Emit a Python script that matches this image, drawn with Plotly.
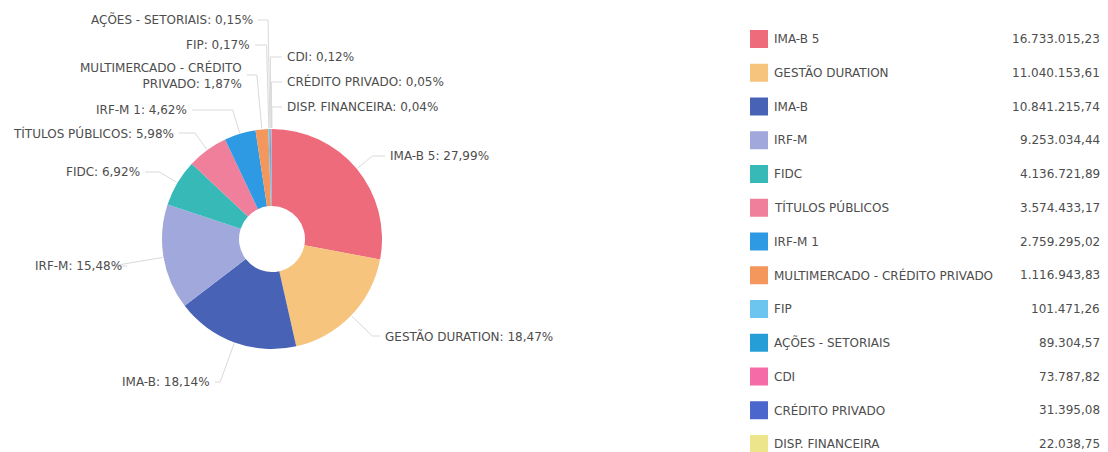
import math
import plotly.graph_objects as go

# ---------------- data ----------------
categories = [
    "IMA-B 5", "GESTÃO DURATION", "IMA-B", "IRF-M", "FIDC", "TÍTULOS PÚBLICOS",
    "IRF-M 1", "MULTIMERCADO - CRÉDITO PRIVADO", "FIP", "AÇÕES - SETORIAIS",
    "CDI", "CRÉDITO PRIVADO", "DISP. FINANCEIRA",
]
values = [
    16733015.23, 11040153.61, 10841215.74, 9253034.44, 4136721.89, 3574433.17,
    2759295.02, 1116943.83, 101471.26, 89304.57, 73787.82, 31395.08, 22038.75,
]
colors = [
    "#ee6b7b", "#f6c47c", "#4863b5", "#a1a8dc", "#36b9b7", "#f07f9b",
    "#2e9ae4", "#f4975c", "#6cc5ef", "#259ed8", "#f56ba7", "#4b66cc", "#ede58b",
]
# label text for pie callouts (line break for the long one)
callout_names = [
    "IMA-B 5", "GESTÃO DURATION", "IMA-B", "IRF-M", "FIDC", "TÍTULOS PÚBLICOS",
    "IRF-M 1", "MULTIMERCADO - CRÉDITO<br>PRIVADO", "FIP", "AÇÕES - SETORIAIS",
    "CDI", "CRÉDITO PRIVADO", "DISP. FINANCEIRA",
]

# ---------------- layout constants (window pixels) ----------------
WIN_W, WIN_H = 1108, 452
OFF = 8                              # page body margin
W, H = WIN_W - OFF, WIN_H - OFF      # figure size
CX, CY, R = 272, 239, 110            # pie centre / radius in window pixels
HOLE = 0.3
# callout text anchor (pixel x of text edge, pixel y of text centre, side)
label_x = [388, 383, 212, 124, 142, 176, 189, 244, 252, 255, 285, 285, 285]
label_y = [156, 336, 382, 266, 172, 133, 110, 75, 45, 20, 57, 82, 107]
label_side = ["L", "L", "R", "R", "R", "R", "R", "R", "R", "R", "L", "L", "L"]
# legend table
legend_sq_x = 759
legend_name_x = 772
legend_val_x = 1102
legend_row0 = 39
legend_step = 33.75

TEXT = "#4d4d4d"
FONT = "DejaVu Sans"

def px(x):
    return (x - OFF) / W

def py(y):
    return 1 - (y - OFF) / H

def br(v, d=2):
    s = f"{v:,.{d}f}"
    return s.replace(",", "#").replace(".", ",").replace("#", ".")

total = sum(values)
pcts = [v / total * 100 for v in values]

fig = go.Figure()

fig.add_trace(go.Pie(
    labels=categories, values=values, sort=False, direction="clockwise",
    rotation=0, hole=HOLE, textinfo="none", showlegend=False,
    marker=dict(colors=colors, line=dict(width=0)),
    domain=dict(x=[px(CX - R), px(CX + R)], y=[py(CY + R), py(CY - R)]),
    hovertemplate="%{label}: %{percent}<extra></extra>",
))

# ---------------- callouts ----------------
shapes = []
annotations = []
cum = 0.0
for i, name in enumerate(callout_names):
    frac_mid = (cum + values[i] / 2) / total
    cum += values[i]
    th = 2 * math.pi * frac_mid
    sx, sy = math.sin(th), -math.cos(th)   # pixel direction (y down)
    x0, y0 = CX + (R + 1) * sx, CY + (R + 1) * sy
    ly = label_y[i]
    up = -sy
    dy = y0 - ly
    if up != 0 and dy / up > 6 and dy / up < 120:
        t = dy / up
        x1, y1 = x0 + sx * t, ly
    else:
        x1, y1 = x0 + sx * 10, y0 + sy * 10
    x2 = label_x[i] + (3 if label_side[i] == "R" else -3)
    path = f"M {px(x0)},{py(y0)} L {px(x1)},{py(y1)} L {px(x2)},{py(ly)}"
    shapes.append(dict(type="path", path=path, xref="paper", yref="paper",
                       line=dict(color="#d9d9d9", width=1)))
    annotations.append(dict(
        x=px(label_x[i]), y=py(ly), xref="paper", yref="paper",
        text=f"{name}: {br(pcts[i])}%", showarrow=False,
        xanchor="right" if label_side[i] == "R" else "left", yanchor="middle",
        align="right" if label_side[i] == "R" else "left",
        font=dict(family=FONT, size=12, color=TEXT),
    ))

# ---------------- legend table (on its own axes) ----------------
n = len(categories)
ppu = legend_step
top_val = (OFF - legend_row0) / ppu
bot_val = (WIN_H - legend_row0) / ppu

fig.add_trace(go.Scatter(
    x=[legend_sq_x] * n, y=categories, mode="markers", xaxis="x2", yaxis="y2",
    marker=dict(symbol="square", size=18, color=colors, line=dict(width=0)),
    showlegend=False, hoverinfo="skip",
))
for i, c in enumerate(categories):
    annotations.append(dict(
        x=legend_name_x, y=c, xref="x2", yref="y2", text=c, showarrow=False,
        xanchor="left", yanchor="middle",
        font=dict(family=FONT, size=12, color=TEXT),
    ))
    annotations.append(dict(
        x=legend_val_x, y=c, xref="x2", yref="y2", text=br(values[i]),
        showarrow=False, xanchor="right", yanchor="middle",
        font=dict(family=FONT, size=12, color=TEXT),
    ))

fig.update_layout(
    width=W, height=H, autosize=False,
    margin=dict(l=0, r=0, t=0, b=0),
    paper_bgcolor="white", plot_bgcolor="white",
    shapes=shapes, annotations=annotations,
    xaxis2=dict(domain=[0, 1], range=[OFF, WIN_W], visible=False, fixedrange=True),
    yaxis2=dict(domain=[0, 1], type="category", categoryarray=categories,
                range=[bot_val, top_val], visible=False, fixedrange=True,
                anchor="x2"),
    font=dict(family=FONT, size=12, color=TEXT),
)

fig.write_html("out.html")
